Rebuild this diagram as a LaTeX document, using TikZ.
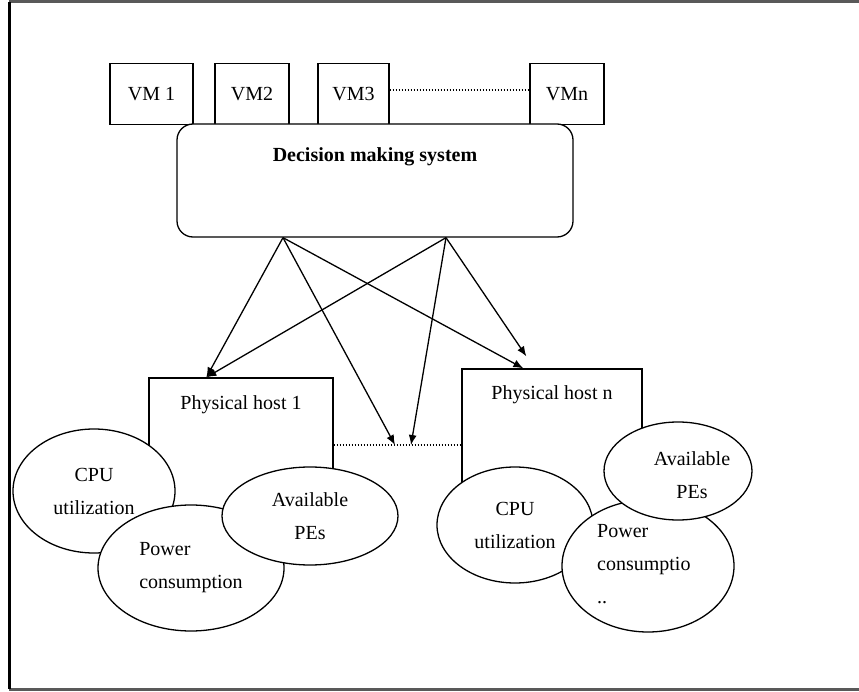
\documentclass[tikz,border=0pt]{standalone}
\usepackage{fontspec}
\setmainfont{Liberation Serif}
\usetikzlibrary{shapes.geometric,arrows.meta}
\begin{document}
\begin{tikzpicture}[x=1pt,y=-1pt,
  every node/.style={font=\fontsize{20}{33}\selectfont, inner sep=0pt},
  box/.style={draw, line width=1.3pt, fill=white},
  vmbox/.style={box, minimum height=61pt},
  oval/.style={ellipse, draw, line width=1.3pt, fill=white},
  link/.style={line width=1.3pt, -{Latex[length=10pt,width=8pt]}},
  dotline/.style={line width=1.3pt, dash pattern=on 1.4pt off 1.6pt}]
\useasboundingbox (0,0) rectangle (859,692);
% outer frame (open on the right)
\draw[line width=3pt, gray!70!black] (9,2) -- (859,2);
\draw[line width=3pt, gray!70!black] (9,689) -- (859,689);
\draw[line width=3pt] (9,2) -- (9,689);

% virtual machines
\node[vmbox, minimum width=83pt] (vm1) at (151.5,94) {VM 1};
\node[vmbox, minimum width=74pt] (vm2) at (252,94) {VM2};
\node[vmbox, minimum width=71pt] (vm3) at (353.5,94) {VM3};
\node[vmbox, minimum width=74pt] (vmn) at (567,94) {VMn};
\draw[dotline] ([yshift=4pt]vm3.east) -- ([yshift=4pt]vmn.west);

% decision making system
\node[box, rounded corners=16pt, minimum width=396pt, minimum height=113pt] (dms) at (375,180.5) {};
\node[font=\fontsize{20}{24}\selectfont\bfseries] (dmstext) at ([yshift=-33pt]dms.north) {Decision making system};
\coordinate (srcA) at ([xshift=-92pt]dms.south);
\coordinate (srcB) at ([xshift=71pt]dms.south);

% physical hosts
\node[box, minimum width=184pt, minimum height=142pt] (h1) at (241,449) {};
\node (h1text) at ([yshift=-27pt]h1.north) {Physical host 1};
\node[box, minimum width=180pt, minimum height=151pt] (hn) at (552,444.5) {};
\node (hntext) at ([yshift=-26pt]hn.north) {Physical host n};

% link between hosts
\coordinate (m1) at (395,445);
\coordinate (m2) at (411,445);
\draw[dotline] (h1.east |- m1) -- (hn.west |- m1);

% arrows from the decision making system
\coordinate (t1) at ([xshift=58pt]h1.north west);
\coordinate (tnA) at ([xshift=62pt]hn.north west);
\coordinate (tnB) at ([xshift=65pt,yshift=12pt]hn.north west);
\draw[link] (srcA) -- (t1);
\draw[link] (srcA) -- (m1);
\draw[link] (srcA) -- (tnA);
\draw[link] (srcB) -- (t1);
\draw[link] (srcB) -- (m2);
\draw[link] (srcB) -- (tnB);

% host 1 resources
\node[oval, minimum width=162pt, minimum height=124pt, align=center] (cpu1) at (94,491) {CPU\\utilization};
\node[oval, minimum width=186pt, minimum height=126pt, align=left] (pow1) at (191,568) {Power\\consumption};
\node[oval, minimum width=176pt, minimum height=98pt, align=center] (pes1) at (310,516) {Available\\PEs};

% host n resources
\node[oval, minimum width=156pt, minimum height=116pt, align=center] (cpun) at (515,525) {CPU\\utilization};
\node[oval, minimum width=172pt, minimum height=132pt] (pown) at (648,566) {};
\node[align=left, anchor=north west] (powntext) at (597,524) {Power\\consumptio\\..};
\node[oval, minimum width=148pt, minimum height=98pt] (pesn) at (678,471) {};
\node[align=center] (pesntext) at (692,475) {Available\\PEs};
\end{tikzpicture}
\end{document}
